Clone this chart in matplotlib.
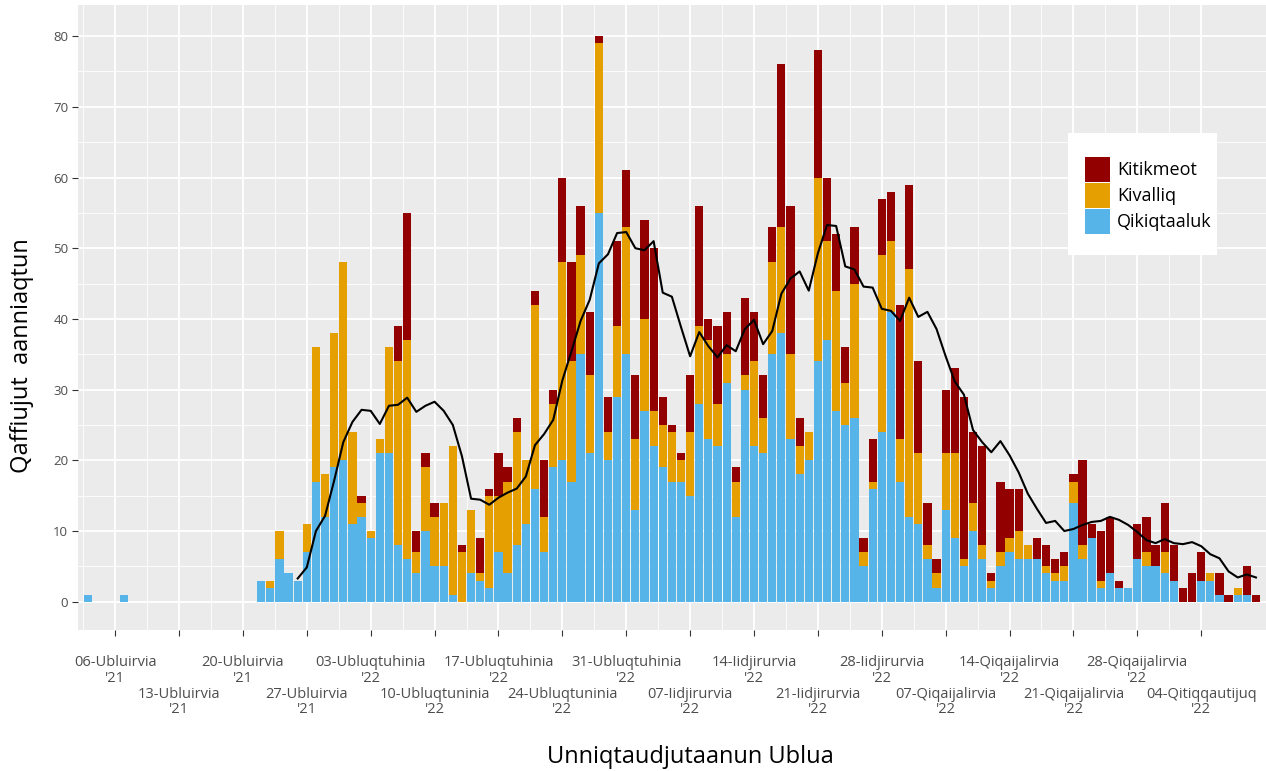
import numpy as np
import pandas as pd
import matplotlib
matplotlib.use('Agg')
import matplotlib.pyplot as plt
import matplotlib.dates as mdates
from matplotlib.patches import Patch, Rectangle

plt.rcParams['font.family'] = ['Open Sans', 'DejaVu Sans']

# %% Data: daily cases, 03-Dec-2021 .. 10-Apr-2022
start = '2021-12-03'
# Dec 3 .. Dec 21
early_q = [1, 0, 0, 0, 1, 0, 0, 0, 0, 0, 0, 0, 0, 0, 0, 0, 0, 0, 0]
# Dec 22 .. Apr 10
qikiqtaaluk = early_q + [
    3, 2, 6, 4, 3, 7, 17, 12, 19, 20,            # Dec 22-31
    11, 12, 9, 21, 21, 8, 6, 4, 10, 5,            # Jan 1-10
    5, 1, 0, 4, 3, 2, 7, 4, 8, 11,                # Jan 11-20
    16, 7, 19, 20, 17, 35, 21, 55, 20, 29, 35,    # Jan 21-31
    13, 27, 22, 19, 17, 17, 15, 28, 23, 22,       # Feb 1-10
    31, 12, 30, 22, 21, 35, 38, 23, 18, 20,       # Feb 11-20
    34, 37, 27, 25, 26, 5, 16, 24,                # Feb 21-28
    41, 17, 12, 11, 6, 2, 13, 9, 5, 10,           # Mar 1-10
    6, 2, 5, 7, 6, 6, 6, 4, 3, 3,                 # Mar 11-20
    14, 6, 9, 2, 4, 2, 2, 6, 5, 5, 4,             # Mar 21-31
    3, 0, 0, 3, 3, 1, 0, 1, 1, 0]                 # Apr 1-10
kivalliq = [0] * 19 + [
    0, 1, 4, 0, 0, 4, 19, 6, 19, 28,
    13, 2, 1, 2, 15, 26, 31, 3, 9, 7,
    9, 21, 7, 9, 1, 13, 8, 13, 16, 9,
    26, 5, 9, 28, 17, 14, 11, 24, 4, 10, 18,
    10, 13, 5, 6, 7, 3, 9, 11, 14, 6,
    4, 5, 2, 12, 5, 13, 15, 12, 4, 4,
    26, 14, 17, 6, 19, 2, 1, 25,
    10, 6, 35, 10, 2, 2, 8, 12, 1, 4,
    2, 1, 2, 2, 4, 2, 0, 1, 1, 2,
    3, 2, 0, 1, 0, 0, 0, 0, 2, 0, 3,
    0, 0, 0, 0, 1, 0, 0, 1, 0, 0]
kitikmeot = [0] * 19 + [
    0, 0, 0, 0, 0, 0, 0, 0, 0, 0,
    0, 1, 0, 0, 0, 5, 18, 3, 2, 2,
    0, 0, 1, 0, 5, 1, 6, 2, 2, 0,
    2, 8, 2, 12, 14, 7, 9, 1, 5, 12, 8,
    9, 14, 23, 4, 1, 1, 8, 17, 3, 11,
    6, 2, 11, 7, 6, 5, 23, 21, 4, 0,
    18, 9, 8, 5, 8, 2, 6, 8,
    7, 19, 12, 13, 6, 2, 9, 12, 23, 10,
    14, 1, 10, 7, 6, 0, 3, 3, 2, 2,
    1, 12, 2, 7, 8, 1, 0, 5, 5, 3, 7,
    5, 2, 4, 4, 0, 3, 1, 0, 4, 1]

tick_dates = pd.date_range('2021-12-06', '2022-04-04', freq='7D')
tick_labels = ['06-Ubluirvia\n\'21', '13-Ubluirvia\n\'21', '20-Ubluirvia\n\'21',
               '27-Ubluirvia\n\'21', '03-Ubluqtuhinia\n\'22', '10-Ubluqtuninia\n\'22',
               '17-Ubluqtuhinia\n\'22', '24-Ubluqtuninia\n\'22', '31-Ubluqtuhinia\n\'22',
               '07-Iidjirurvia\n\'22', '14-Iidjirurvia\n\'22', '21-Iidjirurvia\n\'22',
               '28-Iidjirurvia\n\'22', '07-Qiqaijalirvia\n\'22', '14-Qiqaijalirvia\n\'22',
               '21-Qiqaijalirvia\n\'22', '28-Qiqaijalirvia\n\'22', '04-Qitiqqautijuq\n\'22']

regions = ['Kitikmeot', 'Kivalliq', 'Qikiqtaaluk']
colors = {'Kitikmeot': '#930000', 'Kivalliq': '#E69F00', 'Qikiqtaaluk': '#56B4E9'}

df = pd.DataFrame({'Qikiqtaaluk': qikiqtaaluk, 'Kivalliq': kivalliq, 'Kitikmeot': kitikmeot},
                  index=pd.date_range(start, periods=len(qikiqtaaluk), freq='D'))
df['total'] = df[regions].sum(axis=1)
avg7 = df['total'].rolling(7).mean()
avg7 = avg7[avg7.index >= '2021-12-26']

# %% Plot
fig = plt.figure(figsize=(12.66, 7.71), dpi=100)
ax = fig.add_axes([78 / 1266, 1 - 630 / 771, 1 - 78 / 1266, 625 / 771])
ax.set_facecolor('#EBEBEB')

x = mdates.date2num(df.index)
bottom = np.zeros(len(df))
for reg in ['Qikiqtaaluk', 'Kivalliq', 'Kitikmeot']:
    ax.bar(x, df[reg].values, width=0.9, bottom=bottom, color=colors[reg], linewidth=0, zorder=3)
    bottom += df[reg].values
ax.plot(mdates.date2num(avg7.index), avg7.values, color='black', linewidth=1.5, zorder=4)

x0 = mdates.date2num(pd.Timestamp('2021-12-06'))
ax.set_xlim(x0 - 4.07, x0 + 126.1)
ax.set_ylim(-4, 84.4)

# grid like ggplot theme_grey
xt = mdates.date2num(tick_dates)
ax.set_xticks(xt)
ax.set_xticks(xt - 3.5, minor=True)
ax.set_yticks(np.arange(0, 81, 10))
ax.set_yticks(np.arange(5, 85, 10), minor=True)
ax.grid(which='major', color='white', linewidth=1.3, zorder=0)
ax.grid(which='minor', color='white', linewidth=0.6, zorder=0)
ax.set_axisbelow(True)
for s in ax.spines.values():
    s.set_visible(False)

ax.tick_params(axis='x', which='major', length=4, color='#333333', labelbottom=False)
ax.tick_params(axis='y', which='major', length=4, color='#333333', labelsize=9.5,
               labelcolor='#4D4D4D', pad=3)
ax.tick_params(which='minor', length=0)

# two staggered rows of date labels
for i, (xv, lab) in enumerate(zip(xt, tick_labels)):
    off = -18 if i % 2 == 0 else -41
    ax.annotate(lab, xy=(xv, 0), xycoords=('data', 'axes fraction'),
                xytext=(0, off), textcoords='offset points', ha='center', va='top',
                fontsize=10.5, color='#4D4D4D', linespacing=1.05, annotation_clip=False)

fig.text(22 / 1266, 1 - 356 / 771, 'Qaffiujut  aanniaqtun', rotation=90, fontsize=17,
         ha='center', va='center', color='black')
fig.text(690 / 1266, 1 - 757 / 771, 'Unniqtaudjutaanun Ublua', fontsize=17,
         ha='center', va='center', color='black')

# legend: white box drawn separately, keys placed inside
ax.add_patch(Rectangle((0.8333, 0.600), 0.1254, 0.195, transform=ax.transAxes,
                       facecolor='white', edgecolor='none', zorder=5))
handles = [Patch(facecolor=colors[r], edgecolor='none') for r in regions]
leg = ax.legend(handles, regions, loc='upper left', bbox_to_anchor=(0.8477, 0.7568),
                fontsize=13, frameon=False, borderpad=0,
                handlelength=1.38, handleheight=1.75, labelspacing=0.06, handletextpad=0.38,
                borderaxespad=0)
leg.set_zorder(6)

fig.savefig('out.png', dpi=100)
